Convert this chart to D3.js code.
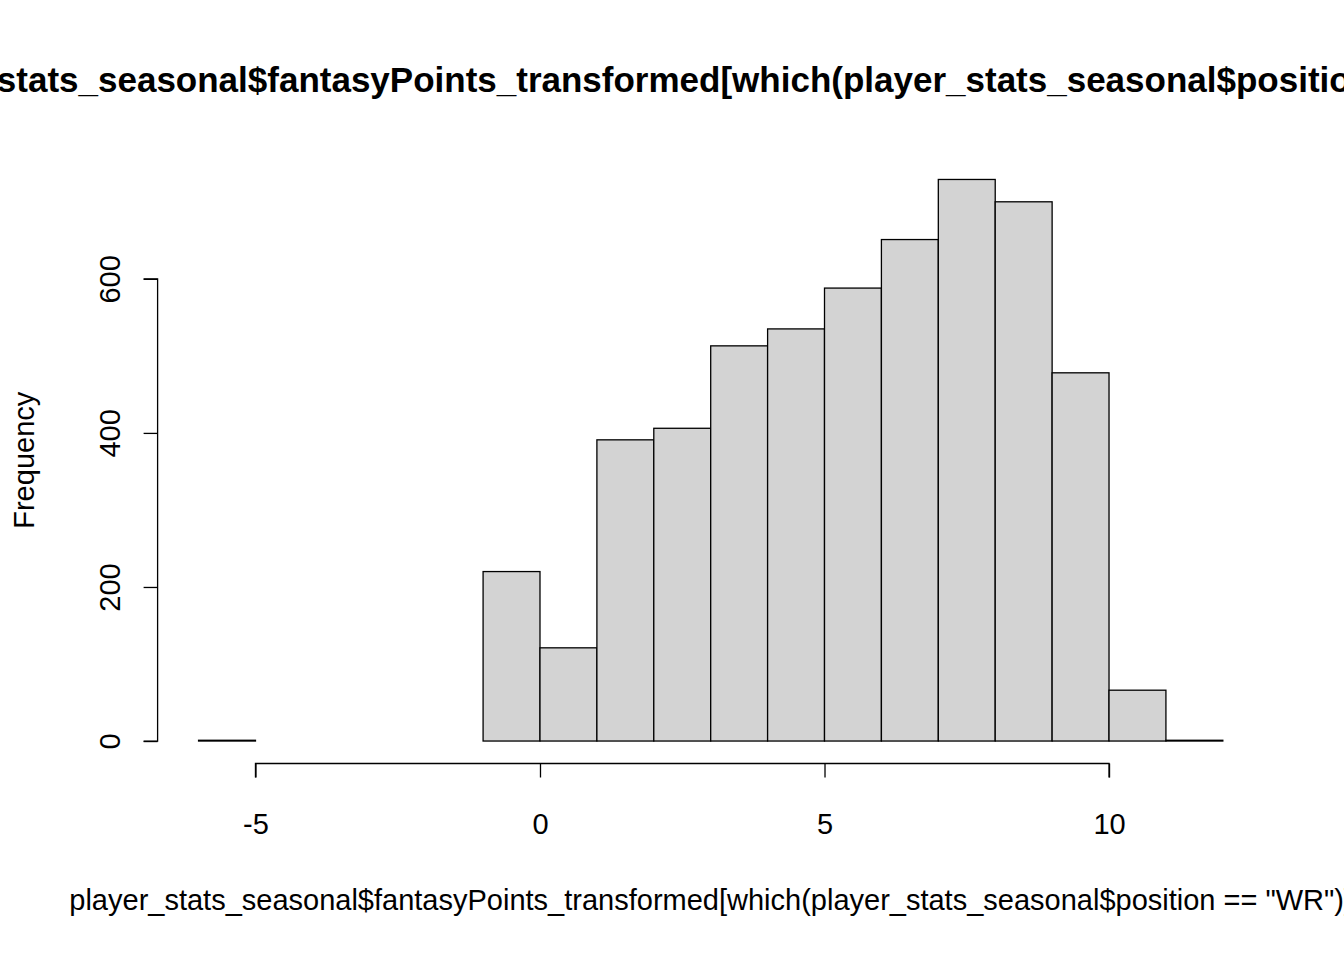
<!DOCTYPE html>
<html><head><meta charset="utf-8">
<script src="https://cdn.jsdelivr.net/npm/d3@7"></script>
<style>body{margin:0;background:#fff}text{font-family:"Liberation Sans",Arial,sans-serif}</style>
</head><body>
<svg id="chart" width="1344" height="960"></svg>
<script>
// histogram bins (left edges, width 1) and counts
var binStart = [-6,-5,-4,-3,-2,-1,0,1,2,3,4,5,6,7,8,9,10,11];
var counts = [1,0,0,0,0,220,121,391,406,513,535,588,651,729,700,478,66,1];
var xTicks = [-5,0,5,10];
var yTicks = [0,200,400,600];
var mainTitle = 'player_stats_seasonal$fantasyPoints_transformed[which(player_stats_seasonal$position == "WR")]';
var xLabel = 'player_stats_seasonal$fantasyPoints_transformed[which(player_stats_seasonal$position == "WR")]';

var svg = d3.select("#chart");
var pLeft = 157.6, pRight = 1263.8, pTop = 157, pBottom = 763.5;
var x = d3.scaleLinear().domain([-6.72, 12.72]).range([pLeft, pRight]);
var y = d3.scaleLinear().domain([-29.16, 758.16]).range([pBottom, pTop]);
var fmt = function(d){ return String(d); };

svg.selectAll("rect.bar").data(counts).enter().append("rect")
  .attr("x", function(d,i){ return x(binStart[i]); })
  .attr("width", function(d,i){ return x(binStart[i]+1) - x(binStart[i]); })
  .attr("y", function(d){ return y(d); })
  .attr("height", function(d){ return y(0) - y(d); })
  .attr("fill", "#d3d3d3").attr("stroke", "#000").attr("stroke-width", 1.3);

var xa = svg.append("g").attr("transform", "translate(0," + pBottom + ")")
  .call(d3.axisBottom(x).tickValues(xTicks).tickSize(14).tickPadding(30).tickFormat(fmt));
var ya = svg.append("g").attr("transform", "translate(" + pLeft + ",0)")
  .call(d3.axisLeft(y).tickValues(yTicks).tickSize(14).tickFormat(fmt));
[xa, ya].forEach(function(a){
  a.select(".domain").attr("stroke-width", 1.3);
  a.selectAll(".tick line").attr("stroke-width", 1.3);
  a.selectAll("text").attr("font-size", 29).attr("font-family", "Liberation Sans, Arial, sans-serif").attr("fill", "#000");
});
xa.selectAll(".tick text").attr("dy", null).attr("y", 70);
xa.select(".domain").attr("d", "M" + x(-5) + ",14V0H" + x(10) + "V14");
ya.select(".domain").attr("d", "M-14," + y(0) + "H0V" + y(600) + "H-14");
ya.selectAll(".tick text").attr("text-anchor", "middle").attr("dy", null)
  .attr("x", null).attr("y", null)
  .attr("transform", "translate(-48,0) rotate(-90)")
  .attr("dominant-baseline", "central");

var cx = x(3);
svg.append("text").attr("x", cx).attr("y", 92).attr("text-anchor", "middle")
  .attr("font-size", 35).attr("font-weight", "bold").text(mainTitle);
svg.append("text").attr("x", cx).attr("y", 910).attr("text-anchor", "middle")
  .attr("font-size", 29).text(xLabel);
svg.append("text").attr("transform", "translate(34," + ((pTop + pBottom) / 2) + ") rotate(-90)")
  .attr("text-anchor", "middle").attr("font-size", 29).text("Frequency");
</script>
</body></html>
